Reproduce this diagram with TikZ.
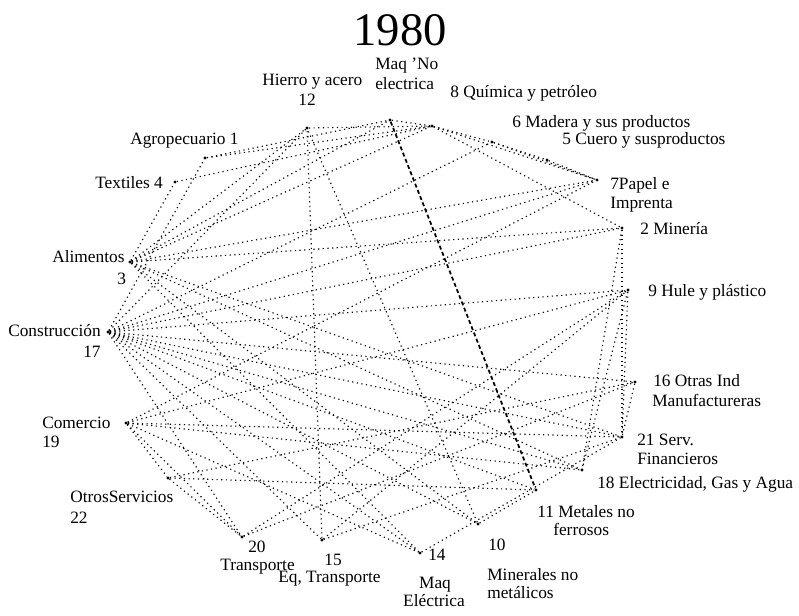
\documentclass[tikz,border=0pt]{standalone}
\usepackage{fontspec}
\setmainfont{Liberation Serif}
\begin{document}
\begin{tikzpicture}[x=0.75pt,y=-0.75pt,
  sector/.style={circle,fill=black,inner sep=0pt,minimum size=2.4pt},
  lbl/.style={anchor=base west,inner sep=0pt,font=\fontsize{13}{14}\selectfont},
  lblc/.style={anchor=base,inner sep=0pt,font=\fontsize{13}{14}\selectfont},
  link/.style={line width=0.85pt,dash pattern=on 0.9pt off 2.6pt},
  strong/.style={line width=1.3pt,dash pattern=on 3pt off 2pt}]
\useasboundingbox (0,0) rectangle (799,616);

\node[inner sep=0pt,font=\fontsize{35}{37}\selectfont] (title) at (400,30) {1980};

% sector positions
\node[sector] (n1)  at (205,158) {};
\node[sector] (n4)  at (175,182) {};
\node[sector] (n12) at (307,128) {};
\node[sector] (n13) at (390,120) {};
\node[sector] (n8)  at (432,126) {};
\node[sector] (n6)  at (492,142) {};
\node[sector] (n5)  at (547,160) {};
\node[sector] (n7)  at (597,180) {};
\node[sector] (n2)  at (622,228) {};
\node[sector] (n9)  at (628,290) {};
\node[sector] (n16) at (635,382) {};
\node[sector] (n21) at (622,437) {};
\node[sector] (n18) at (582,470) {};
\node[sector] (n11) at (536,490) {};
\node[sector] (n10) at (478,524) {};
\node[sector] (n14) at (420,553) {};
\node[sector] (n15) at (322,540) {};
\node[sector] (n20) at (242,537) {};
\node[sector] (n22) at (168,478) {};
\node[sector] (n19) at (126,423) {};
\node[sector] (n17) at (108,332) {};
\node[sector] (n3)  at (130,262) {};

% labels
\node[lbl] (t1) at (130,145) {Agropecuario 1};
\node[lbl] (t4) at (95,189) {Textiles 4};
\node[lbl] (t12a) at (262,86) {Hierro y acero};
\node[lblc] (t12b) at (307,106) {12};
\node[lbl] (t13a) at (375,70) {Maq 'No};
\node[lbl] (t13b) at (375,90) {electrica};
\node[lbl] (t8) at (450,98) {8 Química y petróleo};
\node[lbl] (t6) at (512,128) {6 Madera y sus productos};
\node[lbl] (t5) at (562,145) {5 Cuero y susproductos};
\node[lbl] (t7a) at (610,190) {7Papel e};
\node[lbl] (t7b) at (610,209) {Imprenta};
\node[lbl] (t2) at (640,235) {2 Minería};
\node[lbl] (t9) at (648,297) {9 Hule y plástico};
\node[lbl] (t16a) at (653,386) {16 Otras Ind};
\node[lbl] (t16b) at (652,406) {Manufactureras};
\node[lbl] (t21a) at (637,445) {21 Serv.};
\node[lbl] (t21b) at (637,464) {Financieros};
\node[lbl] (t18) at (597,488) {18 Electricidad, Gas y Agua};
\node[lbl] (t11a) at (537,517) {11 Metales no};
\node[lbl] (t11b) at (553,535) {ferrosos};
\node[lbl] (t10a) at (488,550) {10};
\node[lbl] (t10b) at (487,580) {Minerales no};
\node[lbl] (t10c) at (487,598) {metálicos};
\node[lbl] (t14a) at (428,560) {14};
\node[lblc] (t14b) at (435,588) {Maq};
\node[lblc] (t14c) at (434,606) {Eléctrica};
\node[lblc] (t15a) at (333,565) {15};
\node[lbl] (t15b) at (278,582) {Eq, Transporte};
\node[lbl] (t20a) at (248,552) {20};
\node[lbl] (t20b) at (220,570) {Transporte};
\node[lbl] (t22a) at (70,502) {OtrosServicios};
\node[lbl] (t22b) at (70,523) {22};
\node[lbl] (t19a) at (42,428) {Comercio};
\node[lbl] (t19b) at (42,447) {19};
\node[lbl] (t17a) at (8,337) {Construcción};
\node[lbl] (t17b) at (83,358) {17};
\node[lbl] (t3a) at (52,263) {Alimentos};
\node[lbl] (t3b) at (117,285) {3};

% linkages between sectors
\foreach \a/\b in {n1/n13,n1/n8,n4/n8,n12/n8,n13/n8,n8/n6,n6/n5,n5/n7,n8/n7,n8/n2,n6/n7,
  n3/n4,n3/n12,n3/n13,n3/n8,n3/n7,n3/n2,n3/n21,n3/n18,n3/n10,n3/n14,
  n17/n1,n17/n12,n17/n6,n17/n7,n17/n2,n17/n9,n17/n16,n17/n21,n17/n18,n17/n11,
  n17/n10,n17/n14,n17/n15,n17/n20,
  n19/n9,n19/n7,n19/n21,n19/n18,n19/n22,n19/n20,n19/n14,
  n22/n20,n22/n16,n22/n11,n20/n9,n20/n16,n15/n9,n15/n21,n15/n12,n14/n21,
  n10/n11,n10/n12,n2/n18,n9/n18,n2/n21,n9/n21,n16/n21}
  \draw[link] (\a) -- (\b);
\draw[strong] (n13) -- (n11);
\end{tikzpicture}
\end{document}
